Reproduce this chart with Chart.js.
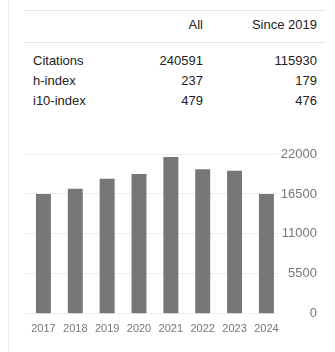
<!DOCTYPE html>
<html>
<head>
<meta charset="utf-8">
<script src="https://cdn.jsdelivr.net/npm/chart.js@4"></script>
<style>
  body { margin: 0; background: #fff; font-family: Arial, "Liberation Sans", sans-serif; }
  #wrap { position: relative; width: 335px; height: 352px; overflow: hidden; }
  #edge { position: absolute; left: 8px; top: 0; width: 0; height: 352px; border-left: 1px solid #eee; }
  .line { position: absolute; left: 24px; width: 302px; height: 0; border-top: 1px solid #e6e6e6; }
  .cell { position: absolute; font-size: 13px; color: #222; line-height: 16px; white-space: nowrap; }
  #box { position: absolute; left: 20px; top: 140px; width: 315px; height: 200px; }
</style>
</head>
<body>
<div id="wrap">
  <div id="edge"></div>
  <div class="line" style="top:10px"></div>
  <div class="line" style="top:42px"></div>
  <div id="stats"></div>
  <div id="box"><canvas id="chart"></canvas></div>
</div>
<script>
// table values
const headers = ["All", "Since 2019"];
const statNames = ["Citations", "h-index", "i10-index"];
const statAll = [240591, 237, 479];
const statSince = [115930, 179, 476];

// chart values
const years = ["2017", "2018", "2019", "2020", "2021", "2022", "2023", "2024"];
const citations = [16500, 17200, 18600, 19250, 21600, 19900, 19700, 16500];
const yTicks = [0, 5500, 11000, 16500, 22000];

// build the table
const stats = document.getElementById("stats");
function addCell(text, top, left, right) {
  const d = document.createElement("div");
  d.className = "cell";
  d.textContent = text;
  d.style.top = top + "px";
  if (left != null) d.style.left = left + "px";
  if (right != null) d.style.right = right + "px";
  stats.appendChild(d);
}
addCell(headers[0], 17, null, 335 - 203);
addCell(headers[1], 17, null, 335 - 317);
statNames.forEach(function (name, i) {
  const top = 53 + i * 20;
  addCell(name, top, 33, null);
  addCell(String(statAll[i]), top, null, 335 - 203);
  addCell(String(statSince[i]), top, null, 335 - 317);
});

document.addEventListener("DOMContentLoaded", function () {
  const ctx = document.getElementById("chart").getContext("2d");
  // bars sit a little right of the grid start, like the scholar chart,
  // so the x axis is linear over the year index
  const points = citations.map(function (v, i) { return { x: i, y: v }; });
  new Chart(ctx, {
    type: "bar",
    data: {
      datasets: [{
        label: "Citations",
        data: points,
        backgroundColor: "#777777",
        barPercentage: 0.47,
        categoryPercentage: 1.0
      }]
    },
    options: {
      responsive: true,
      maintainAspectRatio: false,
      animation: false,
      layout: { padding: { left: 4, right: 18, top: 14, bottom: 3 } },
      plugins: { legend: { display: false }, tooltip: { enabled: false } },
      scales: {
        x: {
          type: "linear",
          min: -0.61,
          max: years.length - 0.61,
          offset: false,
          afterBuildTicks: function (axis) {
            axis.ticks = years.map(function (y, i) { return { value: i }; });
          },
          grid: { display: false },
          border: { display: false },
          ticks: {
            color: "#777",
            font: { family: "Arial", size: 11 },
            padding: 1,
            maxRotation: 0,
            autoSkip: false,
            callback: function (v) { return years[v]; }
          }
        },
        y: {
          position: "right",
          min: 0,
          max: 22000,
          afterBuildTicks: function (axis) {
            axis.ticks = yTicks.map(function (v) { return { value: v }; });
          },
          grid: { color: "#eeeeee", drawTicks: false },
          border: { display: false },
          ticks: {
            color: "#777",
            font: { family: "Arial", size: 13 },
            padding: 1,
            crossAlign: "far",
            callback: function (v) { return String(v); }
          }
        }
      }
    }
  });
});
</script>
</body>
</html>
